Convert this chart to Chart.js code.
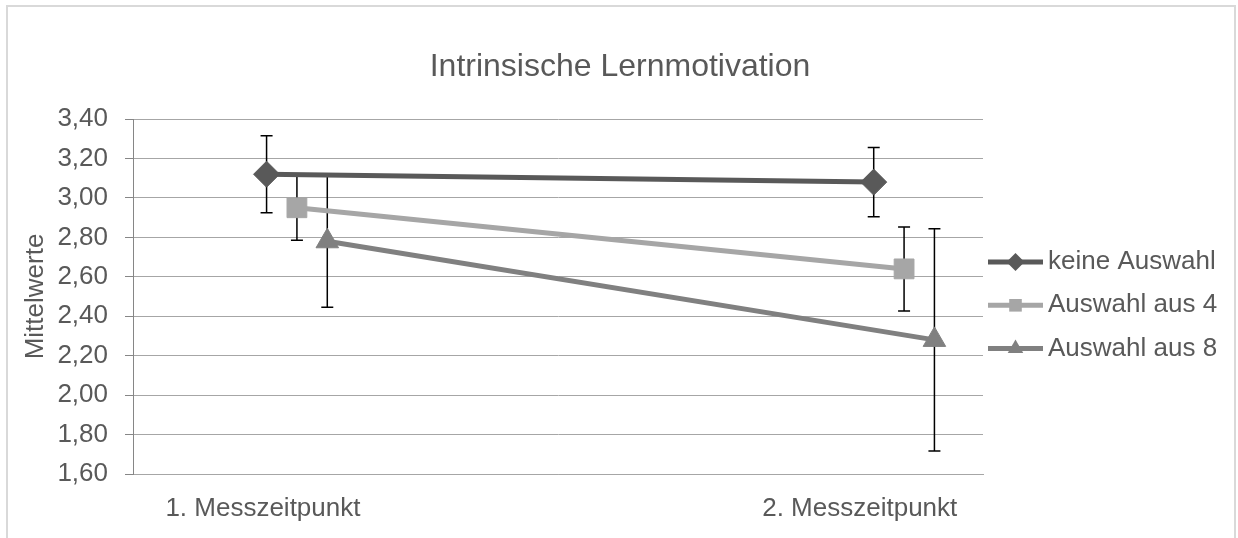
<!DOCTYPE html>
<html>
<head>
<meta charset="utf-8">
<script src="https://cdn.jsdelivr.net/npm/chart.js@4/dist/chart.umd.min.js"></script>
<style>
  html, body { margin: 0; padding: 0; background: #fff; }
  #wrap { position: relative; width: 1238px; height: 538px; }
</style>
</head>
<body>
<div id="wrap"><canvas id="chart"></canvas></div>
<script>
const chartTitle = 'Intrinsische Lernmotivation';
const categories = ['1. Messzeitpunkt', '2. Messzeitpunkt'];
const seriesNames = ['keine Auswahl', 'Auswahl aus 4', 'Auswahl aus 8'];
const keineAuswahl = [3.12, 3.08];
const auswahlAus4 = [2.95, 2.64];
const auswahlAus8 = [2.78, 2.28];
const errKeine = [0.195, 0.175];
const errAus4 = [0.165, 0.213];
const errAus8 = [0.335, 0.563];
const yMin = 1.6, yMax = 3.4, yStep = 0.2;

const FONT = '"Liberation Sans", Arial, sans-serif';
const TEXT = '#595959';

// small horizontal shift per series, like the offset markers in the original
const shift = [0, 0.05, 0.1];
const labelPos = [0.994, 1.977];

function toPoints(values, s) {
  return values.map((v, i) => ({ x: i + 1 + shift[s], y: v }));
}

const styles = [
  { color: '#595959', point: 'rectRot', radius: 13 },
  { color: '#a6a6a6', point: 'rect', radius: 14 },
  { color: '#808080', point: 'triangle', radius: 13 }
];
const seriesValues = [keineAuswahl, auswahlAus4, auswahlAus8];
const seriesErr = [errKeine, errAus4, errAus8];

const datasets = seriesValues.map((vals, s) => ({
  label: seriesNames[s],
  data: toPoints(vals, s),
  errors: seriesErr[s],
  borderColor: styles[s].color,
  backgroundColor: styles[s].color,
  borderWidth: 5,
  pointStyle: styles[s].point,
  pointRadius: styles[s].radius,
  pointHoverRadius: styles[s].radius,
  pointBorderWidth: 1,
  tension: 0
}));

const frame = {
  id: 'frame',
  beforeDraw(chart) {
    const ctx = chart.ctx;
    ctx.save();
    ctx.fillStyle = '#fff';
    ctx.fillRect(0, 0, chart.width, chart.height);
    ctx.strokeStyle = '#d9d9d9';
    ctx.lineWidth = 2;
    ctx.strokeRect(7, 6, 1228, 600);
    // title centred on the whole frame, not on the plot area
    ctx.fillStyle = TEXT;
    ctx.font = '32px ' + FONT;
    ctx.textAlign = 'center';
    ctx.textBaseline = 'middle';
    ctx.fillText(chartTitle, 620, 67);
    ctx.restore();
  }
};

const errorBars = {
  id: 'errorBars',
  beforeDatasetsDraw(chart) {
    const ctx = chart.ctx;
    const y = chart.scales.y;
    ctx.save();
    ctx.strokeStyle = '#000';
    ctx.lineWidth = 1.5;
    chart.data.datasets.forEach((ds, di) => {
      const meta = chart.getDatasetMeta(di);
      meta.data.forEach((pt, i) => {
        const v = ds.data[i].y, e = ds.errors[i];
        const top = y.getPixelForValue(v + e);
        const bot = y.getPixelForValue(v - e);
        ctx.beginPath();
        ctx.moveTo(pt.x, top); ctx.lineTo(pt.x, bot);
        ctx.moveTo(pt.x - 6, top); ctx.lineTo(pt.x + 6, top);
        ctx.moveTo(pt.x - 6, bot); ctx.lineTo(pt.x + 6, bot);
        ctx.stroke();
      });
    });
    ctx.restore();
  }
};

function drawMarker(ctx, style, x, y, r) {
  ctx.beginPath();
  if (style === 'rectRot') {
    ctx.moveTo(x, y - r); ctx.lineTo(x + r, y); ctx.lineTo(x, y + r); ctx.lineTo(x - r, y);
  } else if (style === 'rect') {
    ctx.rect(x - r * 0.7, y - r * 0.7, r * 1.4, r * 1.4);
  } else {
    ctx.moveTo(x, y - r); ctx.lineTo(x + r * 0.866, y + r / 2); ctx.lineTo(x - r * 0.866, y + r / 2);
  }
  ctx.closePath();
  ctx.fill();
}

const sideLegend = {
  id: 'sideLegend',
  afterDraw(chart) {
    const ctx = chart.ctx;
    const x0 = 988, x1 = 1043;
    ctx.save();
    ctx.font = '26px ' + FONT;
    ctx.textBaseline = 'middle';
    chart.data.datasets.forEach((ds, i) => {
      const yy = 262 + i * 43.3;
      ctx.strokeStyle = ds.borderColor;
      ctx.fillStyle = ds.borderColor;
      ctx.lineWidth = 5;
      ctx.beginPath();
      ctx.moveTo(x0, yy); ctx.lineTo(x1, yy);
      ctx.stroke();
      drawMarker(ctx, ds.pointStyle, (x0 + x1) / 2, yy, 9);
      ctx.fillStyle = TEXT;
      ctx.fillText(ds.label, 1048, yy);
    });
    ctx.restore();
  }
};

new Chart(document.getElementById('chart'), {
  type: 'line',
  data: { datasets },
  options: {
    responsive: true,
    maintainAspectRatio: false,
    animation: false,
    layout: { padding: { left: 0, right: 255, top: 119, bottom: 0 } },
    plugins: {
      legend: { display: false },
      tooltip: { enabled: false },
      title: { display: false }
    },
    scales: {
      x: {
        type: 'linear',
        min: 0.78,
        max: 2.18,
        afterFit(scale) { scale.height = 64; },
        afterBuildTicks(scale) { scale.ticks = labelPos.map(v => ({ value: v })); },
        grid: { display: false },
        border: { display: true, color: '#a6a6a6', width: 1 },
        ticks: {
          color: TEXT,
          font: { family: FONT, size: 26 },
          padding: 11,
          maxRotation: 0,
          autoSkip: false,
          callback: (v, i) => categories[i]
        }
      },
      y: {
        min: yMin,
        max: yMax,
        afterFit(scale) { scale.width = 133; },
        grid: { color: '#a6a6a6', tickColor: '#868686', tickLength: 8, lineWidth: 1 },
        border: { display: true, color: '#868686', width: 1 },
        ticks: {
          stepSize: yStep,
          color: TEXT,
          font: { family: FONT, size: 26 },
          padding: 17,
          callback: v => v.toFixed(2).replace('.', ',')
        },
        title: {
          display: true,
          text: 'Mittelwerte',
          color: TEXT,
          font: { family: FONT, size: 26 },
          padding: { top: 20, bottom: 0 }
        }
      }
    }
  },
  plugins: [frame, errorBars, sideLegend]
});
</script>
</body>
</html>
